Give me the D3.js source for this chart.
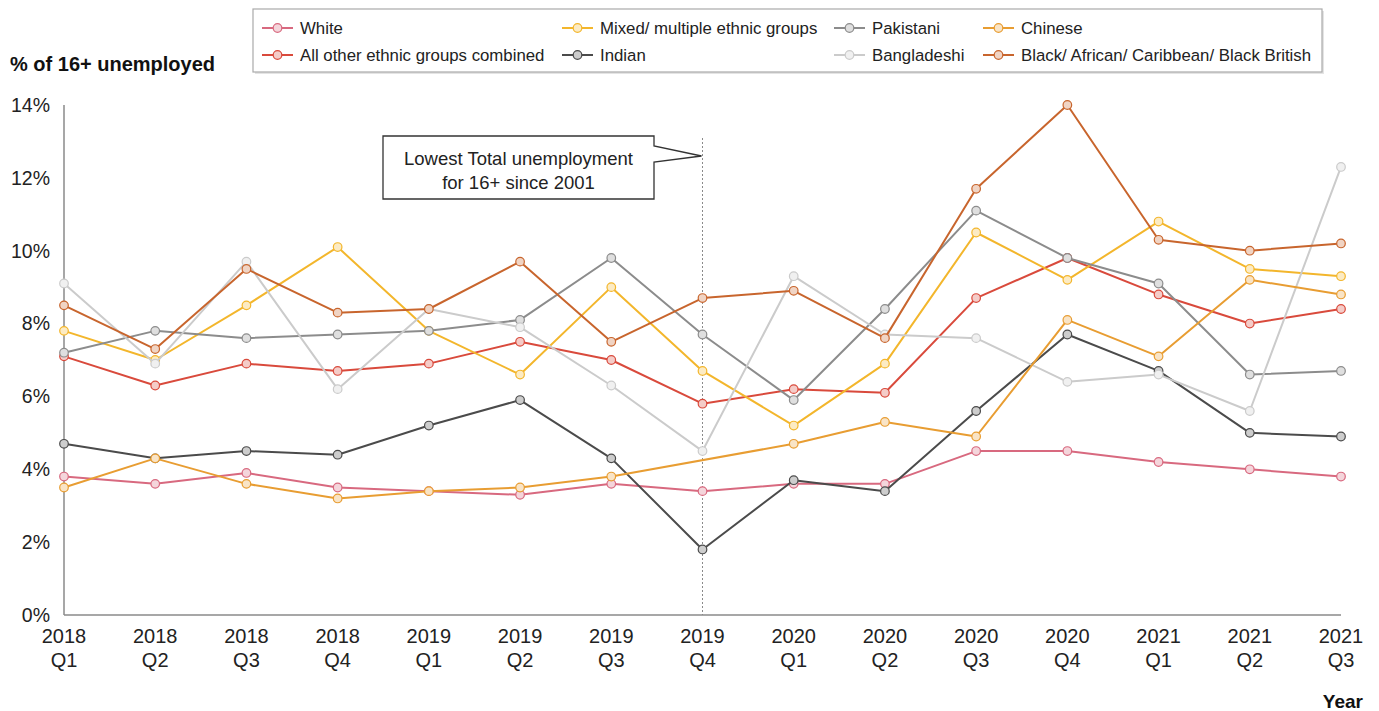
<!DOCTYPE html>
<html>
<head>
<meta charset="utf-8">
<script src="https://cdn.jsdelivr.net/npm/d3@7/dist/d3.min.js"></script>
<style>
  html, body { margin: 0; padding: 0; background: #fff; }
  svg { display: block; font-family: "Liberation Sans", Arial, sans-serif; }
</style>
</head>
<body>
<svg id="chart" width="1379" height="711"></svg>
<script>
// Quarterly unemployment rate (% of 16+) by ethnic group
const quarters = ["2018 Q1","2018 Q2","2018 Q3","2018 Q4","2019 Q1","2019 Q2","2019 Q3","2019 Q4",
                  "2020 Q1","2020 Q2","2020 Q3","2020 Q4","2021 Q1","2021 Q2","2021 Q3"];

const white       = [3.8, 3.6, 3.9, 3.5, 3.4, 3.3, 3.6, 3.4, 3.6, 3.6, 4.5, 4.5, 4.2, 4.0, 3.8];
const allOther    = [7.1, 6.3, 6.9, 6.7, 6.9, 7.5, 7.0, 5.8, 6.2, 6.1, 8.7, 9.8, 8.8, 8.0, 8.4];
const mixed       = [7.8, 7.0, 8.5, 10.1, 7.8, 6.6, 9.0, 6.7, 5.2, 6.9, 10.5, 9.2, 10.8, 9.5, 9.3];
const indian      = [4.7, 4.3, 4.5, 4.4, 5.2, 5.9, 4.3, 1.8, 3.7, 3.4, 5.6, 7.7, 6.7, 5.0, 4.9];
const pakistani   = [7.2, 7.8, 7.6, 7.7, 7.8, 8.1, 9.8, 7.7, 5.9, 8.4, 11.1, 9.8, 9.1, 6.6, 6.7];
const bangladeshi = [9.1, 6.9, 9.7, 6.2, 8.4, 7.9, 6.3, 4.5, 9.3, 7.7, 7.6, 6.4, 6.6, 5.6, 12.3];
const chinese     = [3.5, 4.3, 3.6, 3.2, 3.4, 3.5, 3.8, null, 4.7, 5.3, 4.9, 8.1, 7.1, 9.2, 8.8];
const black       = [8.5, 7.3, 9.5, 8.3, 8.4, 9.7, 7.5, 8.7, 8.9, 7.6, 11.7, 14.0, 10.3, 10.0, 10.2];

const yTicks = [0, 2, 4, 6, 8, 10, 12, 14];

const seriesNames = ["White", "All other ethnic groups combined", "Mixed/ multiple ethnic groups", "Indian",
                     "Pakistani", "Bangladeshi", "Chinese", "Black/ African/ Caribbean/ Black British"];
const seriesValues = [white, allOther, mixed, indian, pakistani, bangladeshi, chinese, black];
const seriesColors = ["#d8697f", "#d94a3c", "#f3b62c", "#4b4b4b", "#8c8c8c", "#cbcbcb", "#e89d32", "#c8652d"];

const highlightQuarter = "2019 Q4";

const svg = d3.select("#chart");

const x = d3.scalePoint().domain(quarters).range([64, 1341]);
const y = d3.scaleLinear().domain([0, 14]).range([615, 105]);

// y tick labels
svg.append("g").selectAll("text")
  .data(yTicks).join("text")
  .attr("x", 50).attr("y", d => y(d))
  .attr("dy", "0.35em")
  .attr("text-anchor", "end")
  .attr("font-size", 19.5)
  .attr("fill", "#222")
  .text(d => d + "%");

// x tick labels (year over quarter)
const xl = svg.append("g").selectAll("text")
  .data(quarters).join("text")
  .attr("x", d => x(d))
  .attr("y", 643)
  .attr("text-anchor", "middle")
  .attr("font-size", 20)
  .attr("fill", "#222");
xl.append("tspan").attr("x", d => x(d)).text(d => d.split(" ")[0]);
xl.append("tspan").attr("x", d => x(d)).attr("dy", 24).text(d => d.split(" ")[1]);

// axis lines
svg.append("line")
  .attr("x1", 64).attr("x2", 64).attr("y1", y(14)).attr("y2", y(0))
  .attr("stroke", "#8a8a8a").attr("stroke-width", 1.5);
svg.append("line")
  .attr("x1", 64).attr("x2", x(quarters[quarters.length - 1])).attr("y1", y(0)).attr("y2", y(0))
  .attr("stroke", "#8a8a8a").attr("stroke-width", 1.5);

// axis titles
svg.append("text").attr("x", 10).attr("y", 71)
  .attr("font-size", 20).attr("font-weight", "bold").attr("fill", "#111")
  .text("% of 16+ unemployed");
svg.append("text").attr("x", 1363).attr("y", 708)
  .attr("text-anchor", "end")
  .attr("font-size", 19).attr("font-weight", "bold").attr("fill", "#111")
  .text("Year");

// dotted marker line at the lowest-unemployment quarter
svg.append("line")
  .attr("x1", x(highlightQuarter)).attr("x2", x(highlightQuarter))
  .attr("y1", 138).attr("y2", y(0))
  .attr("stroke", "#8a8a8a").attr("stroke-width", 1)
  .attr("stroke-dasharray", "2,2");

// callout box
const bx0 = 383, bx1 = 654, by0 = 136, by1 = 199;
const px = x(highlightQuarter) - 1, py = 156;
svg.append("path")
  .attr("d", `M${bx0},${by0} L${bx1},${by0} L${bx1},${by0 + 10} L${px},${py} L${bx1},${by0 + 26} L${bx1},${by1} L${bx0},${by1} Z`)
  .attr("fill", "#fff").attr("stroke", "#333").attr("stroke-width", 1.3);
svg.append("text").attr("x", (bx0 + bx1) / 2).attr("y", 164.5)
  .attr("text-anchor", "middle").attr("font-size", 18.5).attr("fill", "#222")
  .text("Lowest Total unemployment");
svg.append("text").attr("x", (bx0 + bx1) / 2).attr("y", 189)
  .attr("text-anchor", "middle").attr("font-size", 18.5).attr("fill", "#222")
  .text("for 16+ since 2001");

// series lines and markers
const line = d3.line()
  .x(d => x(d.q))
  .y(d => y(d.v));

const tint = c => d3.interpolateRgb(c, "#ffffff")(0.72);

seriesValues.forEach((vals, i) => {
  const pts = quarters.map((q, j) => ({ q, v: vals[j] })).filter(d => d.v !== null);
  const g = svg.append("g");
  g.append("path")
    .datum(pts)
    .attr("d", line)
    .attr("fill", "none")
    .attr("stroke", seriesColors[i])
    .attr("stroke-width", 2)
    .attr("stroke-linejoin", "round");
  g.selectAll("circle")
    .data(pts).join("circle")
    .attr("cx", d => x(d.q)).attr("cy", d => y(d.v))
    .attr("r", 4.3)
    .attr("fill", tint(seriesColors[i]))
    .attr("stroke", seriesColors[i])
    .attr("stroke-width", 1.2);
});

// legend
const legend = svg.append("g");
legend.append("rect")
  .attr("x", 255).attr("y", 11).attr("width", 1069).attr("height", 63)
  .attr("fill", "#e4e4e4");
legend.append("rect")
  .attr("x", 253).attr("y", 9).attr("width", 1069).attr("height", 63)
  .attr("fill", "#fff").attr("stroke", "#aaa").attr("stroke-width", 1.2);

const legendCols = [262, 562, 834, 983];
const legendRows = [28, 55];
const legendSlots = [[0, 0], [0, 1], [1, 0], [1, 1], [2, 0], [2, 1], [3, 0], [3, 1]];

seriesNames.forEach((name, i) => {
  const [c, r] = legendSlots[i];
  const lx = legendCols[c], ly = legendRows[r];
  const item = legend.append("g");
  item.append("line")
    .attr("x1", lx).attr("x2", lx + 31).attr("y1", ly).attr("y2", ly)
    .attr("stroke", seriesColors[i]).attr("stroke-width", 2);
  item.append("circle")
    .attr("cx", lx + 15.5).attr("cy", ly).attr("r", 4.3)
    .attr("fill", tint(seriesColors[i]))
    .attr("stroke", seriesColors[i]).attr("stroke-width", 1.2);
  item.append("text")
    .attr("x", lx + 38).attr("y", ly).attr("dy", "0.35em")
    .attr("font-size", 16.8).attr("fill", "#222")
    .text(name);
});
</script>
</body>
</html>
